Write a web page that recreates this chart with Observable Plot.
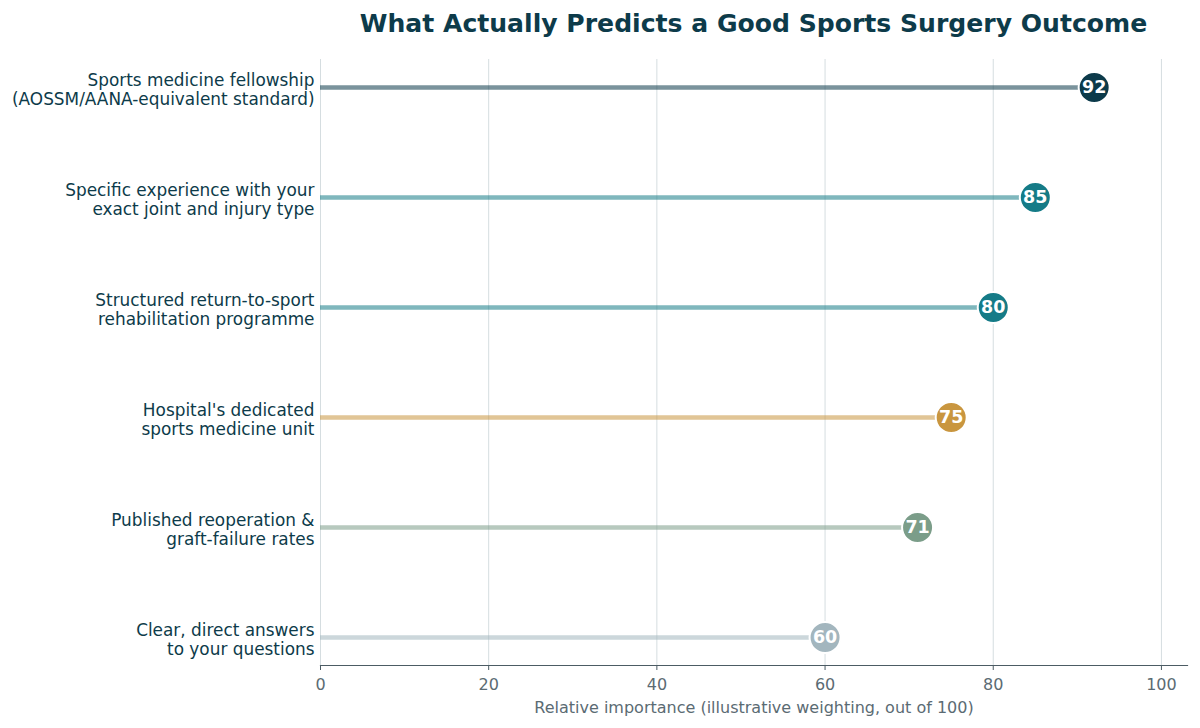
<!DOCTYPE html>
<html>
<head>
<meta charset="utf-8">
<script src="https://cdn.jsdelivr.net/npm/d3@7"></script>
<script src="https://cdn.jsdelivr.net/npm/@observablehq/plot@0.6"></script>
<style>
  body { margin: 0; background: #fff; font-family: "DejaVu Sans", sans-serif; }
  #title { height: 44px; box-sizing: border-box; padding-left: 320px; padding-right: 13px; text-align: center;
           font-weight: bold; font-size: 25.1px; color: #0d3b4a; line-height: 48px; white-space: nowrap; overflow: hidden; }
  #chart svg { display: block; }
</style>
</head>
<body>
<div id="title">What Actually Predicts a Good Sports Surgery Outcome</div>
<div id="chart"></div>
<script>
const factors = [
  "Sports medicine fellowship\n(AOSSM/AANA-equivalent standard)",
  "Specific experience with your\nexact joint and injury type",
  "Structured return-to-sport\nrehabilitation programme",
  "Hospital's dedicated\nsports medicine unit",
  "Published reoperation &\ngraft-failure rates",
  "Clear, direct answers\nto your questions"
];
const scores = [92, 85, 80, 75, 71, 60];
const dotColors = ["#0c3a4a", "#157b87", "#157b87", "#c9963f", "#7b9d89", "#a3b6be"];
const xTicks = [0, 20, 40, 60, 80, 100];

const data = factors.map((f, i) => ({factor: f, score: scores[i], color: dotColors[i]}));

const chart = Plot.plot({
  width: 1200,
  height: 684,
  marginLeft: 320,
  marginRight: 13,
  marginTop: 15,
  marginBottom: 63,
  style: {fontFamily: "DejaVu Sans, sans-serif", background: "#fff"},
  x: {domain: [0, 103.1], ticks: xTicks},
  y: {type: "point", domain: factors, padding: 0.24},
  marks: [
    Plot.gridX(xTicks, {stroke: "#d5dde0", strokeOpacity: 1, strokeWidth: 1}),
    Plot.ruleY(data, {y: "factor", x1: 0, x2: "score", stroke: "color", strokeOpacity: 0.55, strokeWidth: 4.5}),
    Plot.dot(data, {x: "score", y: "factor", r: 15.5, fill: "color", stroke: "white", strokeWidth: 2}),
    Plot.text(data, {x: "score", y: "factor", text: d => String(d.score), fill: "white", fontWeight: "bold", fontSize: 17.5}),
    Plot.frame({anchor: "bottom", stroke: "#4c5c64", strokeWidth: 1.2}),
    Plot.axisX({ticks: xTicks, tickSize: 5, tickPadding: 8, fontSize: 16, color: "#5b6b73", stroke: "#4c5c64",
      label: "Relative importance (illustrative weighting, out of 100)", labelAnchor: "center", labelArrow: "none", labelOffset: 47}),
    Plot.axisY({tickSize: 0, tickPadding: 6, fontSize: 16.9, color: "#0d3b4a", label: null, lineHeight: 1.13, dy: 2})
  ]
});
document.getElementById("chart").appendChild(chart);
</script>
</body>
</html>
